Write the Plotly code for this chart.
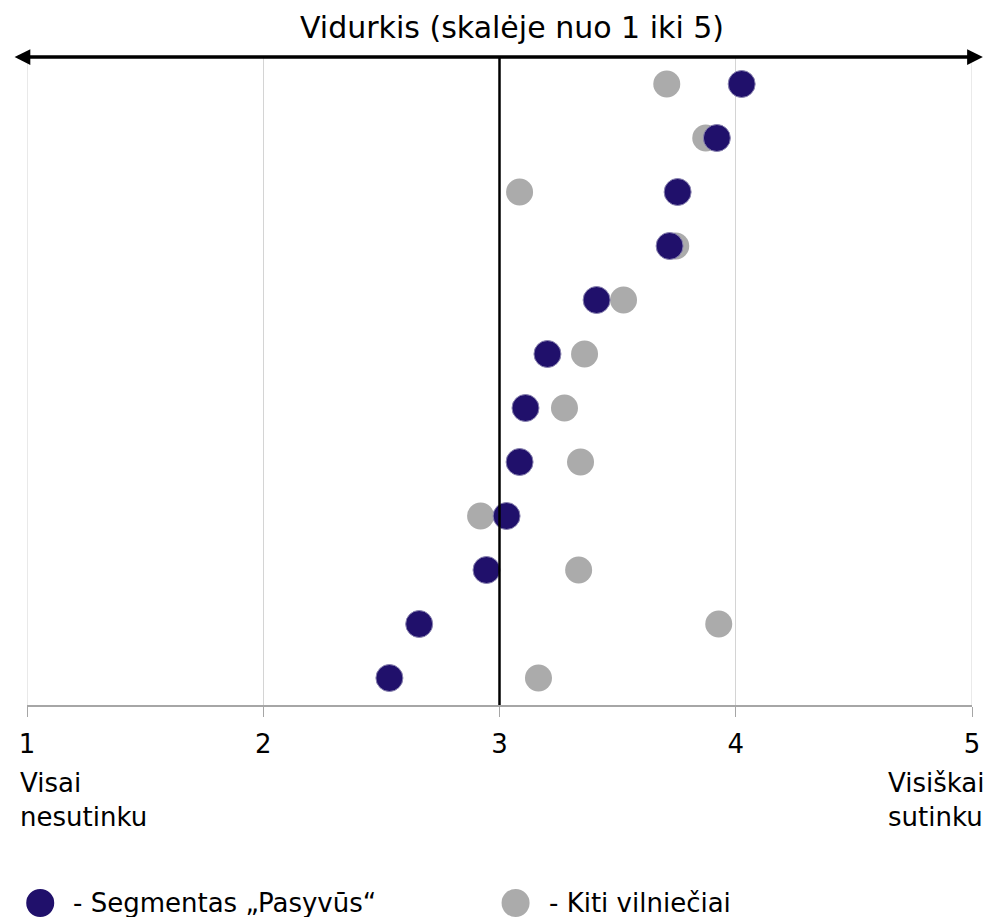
import plotly.graph_objects as go

rows = list(range(12))
pasyvus = [4.025, 3.92, 3.754, 3.72, 3.411, 3.203, 3.11, 3.085, 3.03, 2.945, 2.66, 2.534]
kiti = [3.708, 3.873, 3.085, 3.746, 3.525, 3.36, 3.275, 3.343, 2.92, 3.335, 3.928, 3.165]
tick_vals = [1, 2, 3, 4, 5]
tick_text = ["1", "2", "3", "4", "5"]
title_text = "Vidurkis (skalėje nuo 1 iki 5)"
left_label = "Visai<br>nesutinku"
right_label = "Visiškai<br>sutinku"
legend_names = ["- Segmentas „Pasyvūs“", "- Kiti vilniečiai"]

NAVY = "#20106b"
GRAY = "#ababab"
FONT = "DejaVu Sans"
FS = 26

# target picture geometry
W, H = 984, 917
K = 992 / 984          # horizontal compensation observed in the renderer
WL = round(W * K)
ML, MR, MT, MB = round(27 * K), WL - round(971 * K), 57, 212
PW, PH = WL - ML - MR, H - MT - MB


def px_x(px):
    return (px * K - ML) / PW


def px_y(py):
    return (H - MB - py) / PH


fig = go.Figure()
fig.add_trace(go.Scatter(x=kiti, y=rows, mode="markers", cliponaxis=False,
                         marker=dict(size=27, color=GRAY, line=dict(width=0)),
                         name=legend_names[1], showlegend=False))
fig.add_trace(go.Scatter(x=pasyvus, y=rows, mode="markers", cliponaxis=False,
                         marker=dict(size=27, color=NAVY, line=dict(width=1, color="#8a84b0")),
                         name=legend_names[0], showlegend=False))

fig.update_layout(
    width=WL, height=H, autosize=False,
    margin=dict(l=ML, r=MR, t=MT, b=MB),
    plot_bgcolor="white", paper_bgcolor="white",
    font=dict(family=FONT, size=FS, color="black"),
    xaxis=dict(range=[1, 5], tickvals=tick_vals, ticktext=tick_text,
               showgrid=True, gridcolor="#d4d4d4", gridwidth=1,
               showline=True, linecolor="#a6a6a6", linewidth=2,
               ticks="outside", ticklen=10, tickcolor="#a6a6a6", tickwidth=1,
               ticklabelstandoff=5, zeroline=False,
               tickfont=dict(size=FS)),
    yaxis=dict(range=[11.5, -0.5], showticklabels=False, showgrid=False,
               zeroline=False, showline=False),
)

for xv in (1, 5):
    fig.add_shape(type="line", xref="x", yref="paper", x0=xv, x1=xv, y0=0, y1=1,
                  line=dict(color="#d4d4d4", width=1), layer="below")

fig.add_shape(type="line", xref="x", yref="paper", x0=3, x1=3, y0=0, y1=1,
              line=dict(color="black", width=2.5), layer="above")

fig.add_annotation(xref="paper", yref="paper", x=px_x(982), y=1,
                   ax=-(982 - 20) * K, ay=0, text="",
                   showarrow=True, arrowhead=2, arrowside="end+start",
                   arrowwidth=3.5, arrowsize=0.9, arrowcolor="black")

fig.add_annotation(xref="paper", yref="paper", x=px_x(511), y=px_y(28),
                   text=title_text, showarrow=False, font=dict(size=30),
                   xanchor="center", yanchor="middle")

fig.add_annotation(xref="paper", yref="paper", x=px_x(18), y=px_y(800),
                   text=left_label, showarrow=False, align="left",
                   xanchor="left", yanchor="middle", font=dict(size=FS))
fig.add_annotation(xref="paper", yref="paper", x=px_x(986), y=px_y(800),
                   text=right_label, showarrow=False, align="left",
                   xanchor="right", yanchor="middle", font=dict(size=FS))

leg = [(40, NAVY, legend_names[0]), (515, GRAY, legend_names[1])]
for px, col, name in leg:
    fig.add_shape(type="circle", xref="paper", yref="paper", xsizemode="pixel",
                  ysizemode="pixel", xanchor=px_x(px), yanchor=px_y(903),
                  x0=-14, x1=14, y0=-14, y1=14,
                  fillcolor=col, line=dict(width=0))
    fig.add_annotation(xref="paper", yref="paper", x=px_x(px + 31),
                       y=px_y(903), text=name, showarrow=False,
                       xanchor="left", yanchor="middle", font=dict(size=FS))

fig.write_html("out.html",
               config={"responsive": False, "displayModeBar": False},
               post_script="document.documentElement.style.overflow='hidden';"
                           "document.body.style.margin='0';"
                           "document.body.style.overflow='hidden';")
